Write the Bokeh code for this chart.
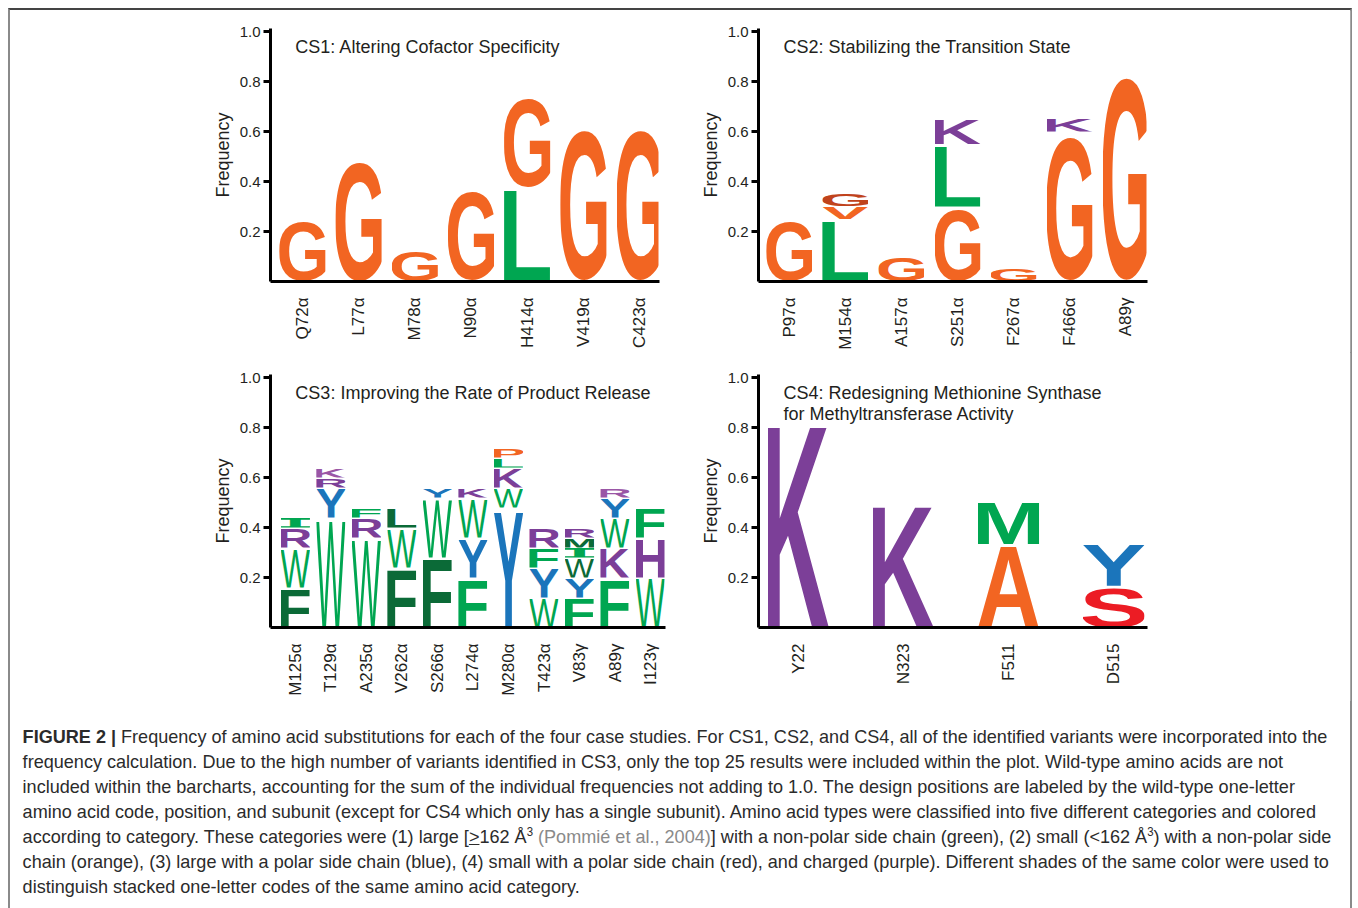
import math
import base64
from bokeh.plotting import figure
from bokeh.models import Range1d, FixedTicker, PrintfTickFormatter, Label, Div, ColumnDataSource
from bokeh.layouts import column, row
from bokeh.embed import file_html
from bokeh.resources import INLINE

# ---------------- data ----------------
cs1_positions = ["Q72α", "L77α", "M78α", "N90α", "H414α", "V419α", "C423α"]
cs1_letters = [["G"], ["G"], ["G"], ["G"], ["L", "G"], ["G"], ["G"]]
cs1_freqs = [[0.25], [0.50], [0.125], [0.375], [0.375, 0.375], [0.625], [0.625]]
cs1_shades = [["orange"], ["orange"], ["orange"], ["orange"], ["green", "orange"], ["orange"], ["orange"]]

cs2_positions = ["P97α", "M154α", "A157α", "S251α", "F267α", "F466α", "A89γ"]
cs2_letters = [["G"], ["L", "V", "G"], ["G"], ["G", "L", "K"], ["G"], ["G", "K"], ["G"]]
cs2_freqs = [[0.25], [0.25, 0.05, 0.05], [0.10], [0.30, 0.25, 0.10], [0.05], [0.60, 0.05], [0.85]]
cs2_shades = [["orange"], ["green", "orange", "orange_dk"], ["orange"], ["orange", "green", "purple"],
              ["orange"], ["orange", "purple"], ["orange"]]

cs3_positions = ["M125α", "T129α", "A235α", "V262α", "S266α", "L274α", "M280α",
                 "T423α", "V83γ", "A89γ", "I123γ"]
cs3_letters = [["F", "W", "R", "I"], ["W", "Y", "R", "K"], ["W", "R", "F"], ["F", "W", "L"],
               ["F", "W", "Y"], ["F", "Y", "W", "K"], ["Y", "W", "K", "L", "P"],
               ["W", "Y", "F", "R"], ["F", "Y", "W", "I", "M", "R"], ["F", "K", "W", "Y", "R"],
               ["W", "H", "F"]]
cs3_freqs = [[0.16, 0.16, 0.08, 0.04], [0.44, 0.12, 0.04, 0.04], [0.36, 0.08, 0.04],
             [0.24, 0.16, 0.08], [0.28, 0.24, 0.04], [0.20, 0.16, 0.16, 0.04],
             [0.48, 0.08, 0.08, 0.04, 0.04], [0.12, 0.12, 0.08, 0.08],
             [0.12, 0.08, 0.08, 0.04, 0.04, 0.04], [0.20, 0.12, 0.12, 0.08, 0.04],
             [0.20, 0.16, 0.12]]
cs3_shades = [["green_dk", "green", "purple", "green"], ["green", "blue", "purple", "purple_lt"],
              ["green", "purple", "green"], ["green_dk", "green", "green_dk"],
              ["green_dk", "green", "blue"], ["green", "blue", "green", "purple"],
              ["blue", "green", "purple", "green", "orange"], ["green", "blue", "green", "purple"],
              ["green", "blue", "green_dk", "green", "green_dk", "purple"],
              ["green", "purple", "green", "blue", "purple_lt"], ["green", "purple", "green"]]

cs4_positions = ["Y22", "N323", "F511", "D515"]
cs4_letters = [["K"], ["K"], ["A", "M"], ["S", "Y"]]
cs4_freqs = [[0.833], [0.50], [0.333, 0.167], [0.167, 0.167]]
cs4_shades = [["purple"], ["purple"], ["orange", "green"], ["red", "blue"]]

y_ticks = [0.2, 0.4, 0.6, 0.8, 1.0]

titles = [["CS1: Altering Cofactor Specificity"],
          ["CS2: Stabilizing the Transition State"],
          ["CS3: Improving the Rate of Product Release"],
          ["CS4: Redesigning Methionine Synthase", "for Methyltransferase Activity"]]

# ---------------- styles ----------------
PALETTE = {
    "orange": "#f26522", "orange_dk": "#c0431c",
    "green": "#00a651", "green_dk": "#0b6a37",
    "blue": "#1b75bb", "purple": "#7c3f98", "purple_lt": "#9a56a6",
    "red": "#ec1c24",
}
TEXT = "#231f20"
FONT = "Liberation Sans"

# glyph ink boxes (font units of 1000): font, weight, xmin, xmax, ymin, ymax
GLYPHS = {
    "A": (FONT, "bold", 20, 702, 0, 718), "E": (FONT, "bold", 76, 621, 0, 718),
    "F": (FONT, "bold", 76, 581, 0, 718), "G": (FONT, "bold", 44, 713, -16, 733),
    "H": (FONT, "bold", 71, 651, 0, 718), "K": (FONT, "bold", 87, 716, 0, 718),
    "L": (FONT, "bold", 76, 583, 0, 718), "M": (FONT, "bold", 69, 765, 0, 718),
    "P": (FONT, "bold", 76, 627, 0, 718), "R": (FONT, "bold", 76, 677, 0, 718),
    "S": (FONT, "bold", 39, 629, -16, 733), "V": (FONT, "bold", 24, 653, 0, 718),
    "W": (FONT, "normal", 13, 931, 0, 716), "Y": (FONT, "bold", 15, 653, 0, 718),
    "I": ("DejaVu Sans Mono", "bold", 105, 497, 0, 729),
}

_cache = {}


def letter_uri(ch, color):
    key = (ch, color)
    if key not in _cache:
        font, weight, x0, x1, y0, y1 = GLYPHS[ch]
        svg = (f'<svg xmlns="http://www.w3.org/2000/svg" width="{x1 - x0}" height="{y1 - y0}" '
               f'viewBox="{x0} {-y1} {x1 - x0} {y1 - y0}" preserveAspectRatio="none">'
               f'<text x="0" y="0" font-family="{font}" font-weight="{weight}" '
               f'font-size="1000" fill="{color}">{ch}</text></svg>')
        _cache[key] = "data:image/svg+xml;base64," + base64.b64encode(svg.encode()).decode()
    return _cache[key]


def make_panel(positions, letters, freqs, shades, title_lines, xr, title_x, letter_w,
               frame_w, b_left, b_right, b_top, b_bottom):
    p = figure(frame_width=frame_w, frame_height=253,
               x_range=Range1d(*xr), y_range=Range1d(0, 1.012),
               output_backend="svg", toolbar_location=None,
               min_border_left=b_left, min_border_right=b_right,
               min_border_top=b_top, min_border_bottom=b_bottom,
               background_fill_color="white", border_fill_color="white")
    p.outline_line_color = None
    p.grid.visible = False

    xs, ys, hs, urls = [], [], [], []
    for i, (ls, fs, ss) in enumerate(zip(letters, freqs, shades), start=1):
        bottom = 0.0
        for l, f, s in zip(ls, fs, ss):
            xs.append(i)
            ys.append(bottom)
            hs.append(f)
            urls.append(letter_uri(l, PALETTE[s]))
            bottom += f
    src = ColumnDataSource(dict(x=xs, y=ys, h=hs, url=urls))
    p.image_url(url="url", x="x", y="y", w=letter_w, h="h", anchor="bottom_center", source=src)

    # x axis
    xa = p.xaxis[0]
    xa.ticker = FixedTicker(ticks=list(range(1, len(positions) + 1)))
    xa.major_label_overrides = {i + 1: lab for i, lab in enumerate(positions)}
    xa.major_label_orientation = math.pi / 2
    xa.major_tick_line_color = None
    xa.minor_tick_line_color = None
    xa.axis_line_width = 3
    xa.axis_line_color = "black"
    xa.major_label_text_font = FONT
    xa.major_label_text_font_size = "17px"
    xa.major_label_text_color = TEXT
    xa.major_label_standoff = 10

    # y axis
    ya = p.yaxis[0]
    ya.ticker = FixedTicker(ticks=y_ticks)
    ya.formatter = PrintfTickFormatter(format="%.1f")
    ya.major_tick_in = 0
    ya.major_tick_out = 7
    ya.major_tick_line_width = 3
    ya.major_tick_line_color = "black"
    ya.minor_tick_line_color = None
    ya.axis_line_width = 3
    ya.axis_line_color = "black"
    ya.major_label_text_font = FONT
    ya.major_label_text_font_size = "15px"
    ya.major_label_text_color = TEXT
    ya.major_label_standoff = 3
    ya.axis_label = "Frequency"
    ya.axis_label_text_font = FONT
    ya.axis_label_text_font_size = "18px"
    ya.axis_label_text_font_style = "normal"
    ya.axis_label_text_color = TEXT
    ya.axis_label_standoff = 4

    for k, line in enumerate(title_lines):
        p.add_layout(Label(x=title_x, y=0.94 - 0.085 * k, text=line, text_font=FONT,
                           text_font_size="18px", text_color=TEXT,
                           text_baseline="alphabetic", text_align="left"))
    return p


p1 = make_panel(cs1_positions, cs1_letters, cs1_freqs, cs1_shades, titles[0],
                (0.434, 7.354), 0.876, 0.82, 391, 260, 19, 18, 70)
p2 = make_panel(cs2_positions, cs2_letters, cs2_freqs, cs2_shades, titles[1],
                (0.45, 7.39), 0.894, 0.82, 391, 80, 203, 18, 70)
p3 = make_panel(cs3_positions, cs3_letters, cs3_freqs, cs3_shades, titles[2],
                (0.30, 11.42), 1.0, 0.82, 397, 260, 13, 22, 74)
p4 = make_panel(cs4_positions, cs4_letters, cs4_freqs, cs4_shades, titles[3],
                (0.621, 4.321), 0.858, 0.585, 391, 80, 203, 22, 74)

caption_lines = [
    "<b>FIGURE 2 |</b> Frequency of amino acid substitutions for each of the four case studies. "
    "For CS1, CS2, and CS4, all of the identified variants were incorporated into the",
    "frequency calculation. Due to the high number of variants identified in CS3, only the top 25 "
    "results were included within the plot. Wild-type amino acids are not",
    "included within the barcharts, accounting for the sum of the individual frequencies not adding "
    "to 1.0. The design positions are labeled by the wild-type one-letter",
    "amino acid code, position, and subunit (except for CS4 which only has a single subunit). "
    "Amino acid types were classified into five different categories and colored",
    "according to category. These categories were (1) large [<u>&gt;</u>162 Å<sup>3</sup> "
    "<span style='color:#8a8a8a'>(Pommié et al., 2004)</span>] with a non-polar side chain (green), "
    "(2) small (&lt;162 Å<sup>3</sup>) with a non-polar side",
    "chain (orange), (3) large with a polar side chain (blue), (4) small with a polar side chain "
    "(red), and charged (purple). Different shades of the same color were used to",
    "distinguish stacked one-letter codes of the same amino acid category.",
]
caption_html = (
    "<style>sup{font-size:12px;line-height:0;vertical-align:7px}</style>"
    "<div style=\"font-family:'Liberation Sans',Arial,sans-serif;font-size:19px;line-height:25px;"
    "color:#2b2b2b;white-space:nowrap;transform:scaleX(0.951);transform-origin:0 0;"
    "padding-top:18px;padding-left:8px\">"
    + "<br>".join(caption_lines) + "</div>"
)
caption = Div(text=caption_html, width=1344, height=200)

layout = column(row(p1, p2), row(p3, p4), caption, width=1344,
                styles={"margin-left": "8px", "margin-top": "8px",
                        "border-top": "2px solid #444444", "border-left": "2px solid #8a8a8a",
                        "border-right": "2px solid #8a8a8a"})

open("out.html", "w").write(file_html(layout, INLINE))
